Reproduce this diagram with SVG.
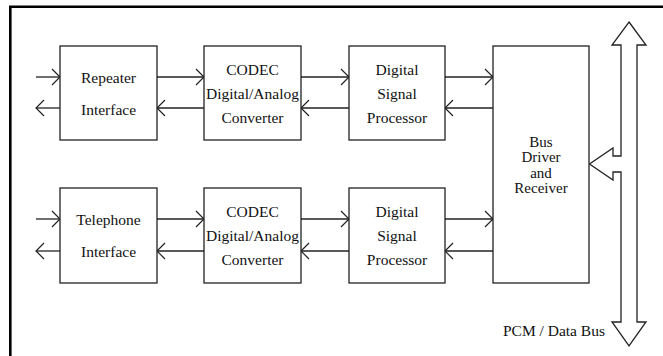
<svg xmlns="http://www.w3.org/2000/svg" width="663" height="356" viewBox="0 0 663 356">
<defs>
<marker id="ah" viewBox="0 0 10 18" refX="9" refY="9" markerWidth="10" markerHeight="18" markerUnits="userSpaceOnUse" orient="auto">
<path d="M1,1 L9,9 L1,17" fill="none" stroke="#222" stroke-width="1.2"/>
</marker>
<style>
.box{fill:#fff;stroke:#222;stroke-width:1.3}
.t{font-size:15.5px;fill:#111;text-anchor:middle}
.c{stroke:#222;stroke-width:1.3;fill:none;marker-end:url(#ah)}
</style>
</defs>
<rect width="663" height="356" fill="#fff"/>
<path d="M10.3,370 V6.8 H680" fill="none" stroke="#000" stroke-width="2.6"/>
<g id="connectors">
<line class="c" x1="36" y1="77" x2="60" y2="77"/>
<line class="c" x1="60" y1="108" x2="36" y2="108"/>
<line class="c" x1="157" y1="77" x2="204" y2="77"/>
<line class="c" x1="204" y1="108" x2="157" y2="108"/>
<line class="c" x1="301" y1="77" x2="349" y2="77"/>
<line class="c" x1="349" y1="108" x2="301" y2="108"/>
<line class="c" x1="445" y1="77" x2="493" y2="77"/>
<line class="c" x1="493" y1="108" x2="445" y2="108"/>
<line class="c" x1="36" y1="219" x2="60" y2="219"/>
<line class="c" x1="60" y1="251" x2="36" y2="251"/>
<line class="c" x1="157" y1="219" x2="204" y2="219"/>
<line class="c" x1="204" y1="251" x2="157" y2="251"/>
<line class="c" x1="301" y1="219" x2="349" y2="219"/>
<line class="c" x1="349" y1="251" x2="301" y2="251"/>
<line class="c" x1="445" y1="219" x2="493" y2="219"/>
<line class="c" x1="493" y1="251" x2="445" y2="251"/>
</g>
<g font-family="'Liberation Serif', 'DejaVu Serif', 'Times New Roman', serif">
<g id="bus">
<path d="M629,22 L646,45 L637,45 L637,322 L646,322 L629,346 L612,322 L621,322 L621,172 L613,172 L613,180 L589.5,164 L613,148 L613,156 L621,156 L621,45 L612,45 Z" fill="#fff" stroke="#222" stroke-width="1.3" stroke-linejoin="miter"/>
<text class="t" x="605" y="336" style="text-anchor:end">PCM / Data Bus</text>
</g>
<g id="repeater">
<rect class="box" x="60" y="46" width="97" height="94"/>
<text class="t" x="108.5" y="83">Repeater</text>
<text class="t" x="108.5" y="115">Interface</text>
</g>
<g id="codec1">
<rect class="box" x="204" y="46" width="97" height="94"/>
<text class="t" x="252.5" y="75">CODEC</text>
<text class="t" x="252.5" y="99">Digital/Analog</text>
<text class="t" x="252.5" y="123">Converter</text>
</g>
<g id="dsp1">
<rect class="box" x="349" y="46" width="96" height="94"/>
<text class="t" x="397" y="75">Digital</text>
<text class="t" x="397" y="99">Signal</text>
<text class="t" x="397" y="123">Processor</text>
</g>
<g id="busdriver">
<rect class="box" x="493" y="46" width="96" height="237"/>
<text class="t" x="541" y="146.5" style="font-size:15px">Bus</text>
<text class="t" x="541" y="162" style="font-size:15px">Driver</text>
<text class="t" x="541" y="177.5" style="font-size:15px">and</text>
<text class="t" x="541" y="193" style="font-size:15px">Receiver</text>
</g>
<g id="telephone">
<rect class="box" x="60" y="188" width="97" height="95"/>
<text class="t" x="108.5" y="225">Telephone</text>
<text class="t" x="108.5" y="257">Interface</text>
</g>
<g id="codec2">
<rect class="box" x="204" y="188" width="97" height="95"/>
<text class="t" x="252.5" y="217">CODEC</text>
<text class="t" x="252.5" y="241">Digital/Analog</text>
<text class="t" x="252.5" y="265">Converter</text>
</g>
<g id="dsp2">
<rect class="box" x="349" y="188" width="96" height="95"/>
<text class="t" x="397" y="217">Digital</text>
<text class="t" x="397" y="241">Signal</text>
<text class="t" x="397" y="265">Processor</text>
</g>
</g>
</svg>
